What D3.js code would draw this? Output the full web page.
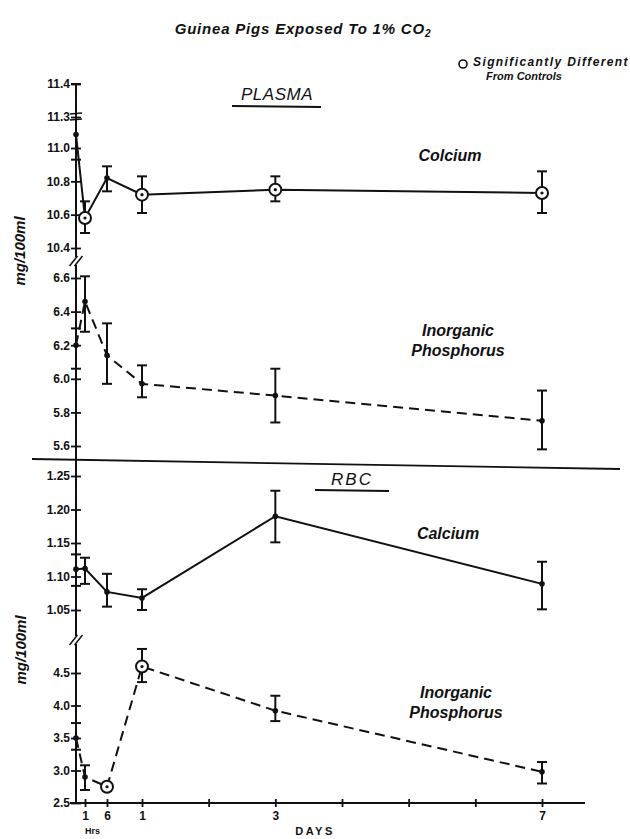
<!DOCTYPE html>
<html>
<head>
<meta charset="utf-8">
<script src="https://cdn.jsdelivr.net/npm/d3@7"></script>
<style>
  body { margin: 0; background: #fff; }
  svg { display: block; }
  text { font-family: "Liberation Sans", Arial, sans-serif; fill: #111; }
  .lbl { font-style: italic; font-weight: bold; }
  .tick text { font-weight: bold; font-size: 12px; }
</style>
</head>
<body>
<svg id="chart" width="630" height="839"></svg>
<script>
// time points, in days (0 = control, then 1 hr, 6 hr, 1, 3, 7 days)
var days = [0, 1/24, 6/24, 1, 3, 7]

var plasmaCa    = [11.13, 10.58, 10.82, 10.72, 10.75, 10.73]
var plasmaCaLo  = [10.93, 10.49, 10.74, 10.61, 10.68, 10.61]
var plasmaCaHi  = [11.40, 10.68, 10.89, 10.83, 10.83, 10.86]
var plasmaCaSig = [0, 1, 0, 1, 1, 1]

var plasmaP    = [6.20, 6.46, 6.14, 5.97, 5.90, 5.75]
var plasmaPLo  = [6.06, 6.28, 5.97, 5.89, 5.74, 5.58]
var plasmaPHi  = [6.30, 6.61, 6.33, 6.08, 6.06, 5.93]
var plasmaPSig = [0, 0, 0, 0, 0, 0]

var rbcCa    = [1.111, 1.112, 1.077, 1.068, 1.190, 1.089]
var rbcCaLo  = [1.086, 1.089, 1.055, 1.050, 1.151, 1.051]
var rbcCaHi  = [1.133, 1.128, 1.104, 1.081, 1.228, 1.122]
var rbcCaSig = [0, 0, 0, 0, 0, 0]

var rbcP    = [3.50, 2.90, 2.75, 4.60, 3.92, 2.98]
var rbcPLo  = [3.32, 2.70, 2.70, 4.36, 3.76, 2.80]
var rbcPHi  = [3.73, 3.08, 2.80, 4.87, 4.15, 3.13]
var rbcPSig = [0, 0, 1, 1, 0, 0]

var plasmaCaTicks = [10.4, 10.6, 10.8, 11.0, 11.3, 11.4]
var plasmaPTicks  = [5.6, 5.8, 6.0, 6.2, 6.4, 6.6]
var rbcCaTicks    = [1.05, 1.10, 1.15, 1.20, 1.25]
var rbcPTicks     = [2.5, 3.0, 3.5, 4.0, 4.5]

var hourTicks  = [1/24, 6/24]
var hourLabels = ["1", "6"]
var dayTicks   = [1, 2, 3, 4, 5, 6, 7]
var dayLabels  = ["1", "", "3", "", "", "", "7"]

var svg = d3.select("#chart")
var axisX0 = 76

// hours are stretched on the original, so the x scale is piecewise
var scaleX = d3.scaleLinear()
               .domain([0, 1/24, 6/24, 1, 7])
               .range([axisX0, 85, 107, 142, 542])

// plasma calcium axis has a break between 11.0 and 11.3
var yPlasmaCa = d3.scaleLinear().domain([10.4, 11.0, 11.3, 11.4]).range([248, 148, 117, 84])
var yPlasmaP  = d3.scaleLinear().domain([5.6, 6.6]).range([446, 278])
var yRbcCa    = d3.scaleLinear().domain([1.05, 1.25]).range([610, 476])
var yRbcP     = d3.scaleLinear().domain([2.5, 4.5]).range([803, 673])

// title + legend
svg.append("text").attr("class", "lbl").attr("x", 303).attr("y", 34)
   .attr("text-anchor", "middle").style("font-size", "15px")
   .style("letter-spacing", "0.8px")
   .html('Guinea Pigs Exposed To 1% CO<tspan dy="3" font-size="10px">2</tspan>')

svg.append("circle").attr("cx", 463).attr("cy", 64).attr("r", 4)
   .attr("fill", "none").attr("stroke", "#111").attr("stroke-width", 1.6)
svg.append("text").attr("class", "lbl").attr("x", 473).attr("y", 66)
   .style("font-size", "12px").style("letter-spacing", "1.4px").text("Significantly Different")
svg.append("text").attr("class", "lbl").attr("x", 524).attr("y", 80)
   .attr("text-anchor", "middle").style("font-size", "11px").text("From Controls")

// section headers
svg.append("text").attr("class", "lbl").attr("x", 277).attr("y", 100)
   .attr("text-anchor", "middle").style("font-size", "17px").style("font-weight", "normal")
   .style("letter-spacing", "0.5px").text("PLASMA")
svg.append("line").attr("x1", 232).attr("x2", 321).attr("y1", 106).attr("y2", 107)
   .attr("stroke", "#111").attr("stroke-width", 2)
svg.append("text").attr("class", "lbl").attr("x", 352).attr("y", 485)
   .attr("text-anchor", "middle").style("font-size", "17px").style("font-weight", "normal")
   .style("letter-spacing", "2px").text("RBC")
svg.append("line").attr("x1", 315).attr("x2", 389).attr("y1", 490).attr("y2", 491)
   .attr("stroke", "#111").attr("stroke-width", 2)

// separator between plasma and rbc
svg.append("line").attr("x1", 32).attr("x2", 620).attr("y1", 459).attr("y2", 469)
   .attr("stroke", "#111").attr("stroke-width", 1.8)

// series labels
function label(x, y, lines) {
    var t = svg.append("text").attr("class", "lbl").attr("x", x).attr("y", y)
               .attr("text-anchor", "middle").style("font-size", "16px")
    lines.forEach(function (s, i) {
        t.append("tspan").attr("x", x).attr("dy", i == 0 ? 0 : 20).text(s)
    })
}
label(450, 161, ["Colcium"])
label(458, 336, ["Inorganic", "Phosphorus"])
label(448, 539, ["Calcium"])
label(456, 698, ["Inorganic", "Phosphorus"])

// y axis line (one long line with break marks)
svg.append("line").attr("x1", axisX0).attr("x2", axisX0).attr("y1", 84).attr("y2", 803)
   .attr("stroke", "#111").attr("stroke-width", 2)

function yAxis(scale, ticks) {
    var g = svg.append("g").attr("transform", "translate(" + axisX0 + ",0)")
               .call(d3.axisLeft(scale).tickValues(ticks).tickSize(5)
                       .tickFormat(d => ticks.length == 5 && d < 2 ? d3.format(".2f")(d) : d3.format(".1f")(d)))
    g.select(".domain").remove()
    g.selectAll(".tick line").attr("x1", -5).attr("x2", 5).attr("stroke", "#111").attr("stroke-width", 1.8)
    g.selectAll(".tick text").attr("x", -6)
    return g
}
yAxis(yPlasmaCa, plasmaCaTicks)
yAxis(yPlasmaP, plasmaPTicks)
yAxis(yRbcCa, rbcCaTicks)
yAxis(yRbcP, rbcPTicks)

// axis break marks
function breakMark(y) {
    svg.append("rect").attr("x", axisX0 - 3).attr("y", y - 4).attr("width", 6).attr("height", 8).attr("fill", "#fff")
    ;[-2.5, 2.5].forEach(function (o) {
        svg.append("line").attr("x1", axisX0 - 4 + o).attr("x2", axisX0 + 4 + o)
           .attr("y1", y + 5).attr("y2", y - 5).attr("stroke", "#111").attr("stroke-width", 1.5)
    })
}
breakMark(261)
breakMark(640)

// x axis
svg.append("line").attr("x1", 70).attr("x2", 585).attr("y1", 803).attr("y2", 803)
   .attr("stroke", "#111").attr("stroke-width", 2)
var gx = svg.append("g").attr("transform", "translate(0,803)")
            .call(d3.axisBottom(scaleX).tickValues(hourTicks.concat(dayTicks)).tickSize(4)
                    .tickFormat((d, i) => hourLabels.concat(dayLabels)[i]))
gx.select(".domain").remove()
gx.selectAll(".tick line").attr("y1", -4).attr("y2", 4).attr("stroke", "#111").attr("stroke-width", 1.8)
gx.selectAll(".tick text").attr("y", 8).style("font-size", "12px")
svg.append("text").attr("x", 85).attr("y", 834).style("font-size", "9px")
   .style("font-weight", "bold").text("Hrs")
svg.append("text").attr("x", 315).attr("y", 835).attr("text-anchor", "middle").style("font-size", "11px")
   .style("font-weight", "bold").style("letter-spacing", "2.5px").text("DAYS")

// series
function series(scaleY, vals, lo, hi, sig, dashed) {
    var pts = days.map((d, i) => ({x: d, y: vals[i], lo: lo[i], hi: hi[i], sig: sig[i]}))
    var line = d3.line().x(p => scaleX(p.x)).y(p => scaleY(p.y))
    svg.append("path").attr("d", line(pts)).attr("fill", "none").attr("stroke", "#111")
       .attr("stroke-width", 2).attr("stroke-dasharray", dashed ? "10,6" : null)

    var g = svg.append("g").selectAll("g").data(pts).enter().append("g")
    g.append("line").attr("x1", p => scaleX(p.x)).attr("x2", p => scaleX(p.x))
     .attr("y1", p => scaleY(p.lo)).attr("y2", p => scaleY(p.hi))
     .attr("stroke", "#111").attr("stroke-width", 2)
    ;["lo", "hi"].forEach(function (k) {
        g.append("line").attr("x1", p => scaleX(p.x) - 5).attr("x2", p => scaleX(p.x) + 5)
         .attr("y1", p => scaleY(p[k])).attr("y2", p => scaleY(p[k]))
         .attr("stroke", "#111").attr("stroke-width", 2)
    })
    g.filter(p => p.sig).append("circle").attr("cx", p => scaleX(p.x)).attr("cy", p => scaleY(p.y))
     .attr("r", 6).attr("fill", "#fff").attr("stroke", "#111").attr("stroke-width", 2)
    g.append("circle").attr("cx", p => scaleX(p.x)).attr("cy", p => scaleY(p.y))
     .attr("r", p => p.sig ? 1.6 : 2.8).attr("fill", "#111")
}
series(yPlasmaCa, plasmaCa, plasmaCaLo, plasmaCaHi, plasmaCaSig, false)
series(yPlasmaP, plasmaP, plasmaPLo, plasmaPHi, plasmaPSig, true)
series(yRbcCa, rbcCa, rbcCaLo, rbcCaHi, rbcCaSig, false)
series(yRbcP, rbcP, rbcPLo, rbcPHi, rbcPSig, true)

// double mark at the plasma calcium break
svg.append("line").attr("x1", axisX0 - 6).attr("x2", axisX0 + 6).attr("y1", 114).attr("y2", 113)
   .attr("stroke", "#111").attr("stroke-width", 1.5)
svg.append("line").attr("x1", axisX0 - 6).attr("x2", axisX0 + 6).attr("y1", 120).attr("y2", 119)
   .attr("stroke", "#111").attr("stroke-width", 1.5)

// y labels
;[[20, 251], [21, 650]].forEach(function (p) {
    svg.append("text").attr("class", "lbl").attr("transform", "translate(" + p[0] + "," + p[1] + ") rotate(-90)")
       .attr("text-anchor", "middle").attr("dy", "0.35em").style("font-size", "15px").text("mg/100ml")
})
</script>
</body>
</html>
